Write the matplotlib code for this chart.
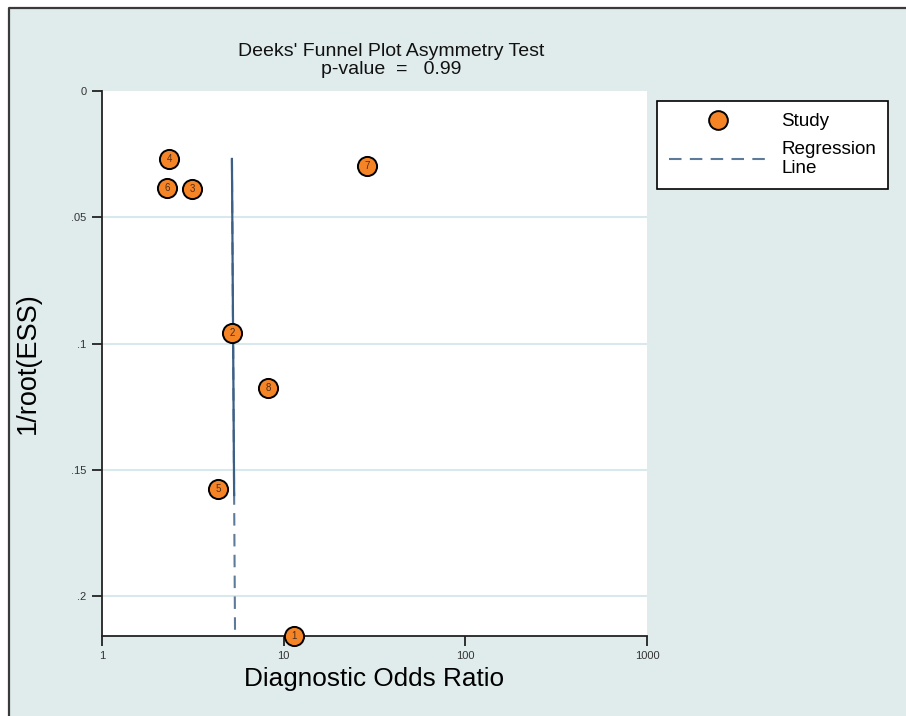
import matplotlib
matplotlib.use("Agg")
import matplotlib.pyplot as plt
from matplotlib.lines import Line2D
from matplotlib.patches import Rectangle

plt.rcParams['font.family'] = ['Liberation Sans', 'DejaVu Sans']

# study estimates: diagnostic odds ratio and 1/sqrt(effective sample size)
study_ids = ["1", "2", "3", "4", "5", "6", "7", "8"]
dor = [11.4, 5.2, 3.13, 2.34, 4.35, 2.28, 28.7, 8.2]
inv_root_ess = [0.2158, 0.0958, 0.0388, 0.0269, 0.1576, 0.0384, 0.0297, 0.1176]

# fitted regression line endpoints (x = DOR, y = 1/root(ESS))
reg_x = [5.19, 5.40]
reg_y = [0.0269, 0.2158]
reg_solid_y = [0.0269, 0.160]

y_ticks = [0, 0.05, 0.1, 0.15, 0.2]
y_ticklabels = ["0", ".05", ".1", ".15", ".2"]
x_ticks = [1, 10, 100, 1000]
x_ticklabels = ["1", "10", "100", "1000"]

W, H = 906, 716
bg = '#e0ecec'
orange = '#f58426'
line_col = '#5d7a98'

fig = plt.figure(figsize=(W / 100, H / 100), dpi=100, facecolor='white')
fig.add_artist(Rectangle((9 / W, -0.1), 1.2, 1.1 - 8 / H, transform=fig.transFigure,
                         facecolor=bg, edgecolor='none', zorder=-10))
# outer frame, only its top and left edges fall inside the image
fig.add_artist(Line2D([9 / W, 9 / W, 1.2], [-0.1, 1 - 8 / H, 1 - 8 / H], transform=fig.transFigure,
                      color='#3a3a3a', lw=1.6, zorder=-9))

ax = fig.add_axes([102 / W, 1 - 636 / H, 545 / W, 545 / H])
ax.set_facecolor('white')
ax.set_xscale('log')
ax.set_xlim(1, 1000)
ax.set_ylim(0.2158, 0)

for s in ['top', 'right']:
    ax.spines[s].set_visible(False)
for s in ['left', 'bottom']:
    ax.spines[s].set_color('#222222')
    ax.spines[s].set_linewidth(1.3)

ax.set_yticks(y_ticks)
ax.set_yticklabels(y_ticklabels, fontsize=8, color='#333333')
ax.set_xticks(x_ticks)
ax.set_xticklabels(x_ticklabels, fontsize=8, color='#333333')
ax.minorticks_off()
ax.tick_params(axis='both', length=7, width=1.3, color='#222222', pad=4)

for yt in y_ticks[1:]:
    ax.axhline(yt, color='#d8e8ec', lw=1.5, zorder=0)

# regression line: dashed over the full span, solid through the upper part
ax.plot(reg_x, reg_y, ls=(0, (6, 4)), color=line_col, lw=1.5, zorder=2)
sx = [reg_x[0], reg_x[0] + (reg_x[1] - reg_x[0]) * (reg_solid_y[1] - reg_y[0]) / (reg_y[1] - reg_y[0])]
ax.plot(sx, reg_solid_y, color='#3c5f86', lw=1.6, zorder=2)

ax.scatter(dor, inv_root_ess, s=190, c=orange, edgecolors='black', linewidths=1.4,
           zorder=4, clip_on=False)
for sid, x, y in zip(study_ids, dor, inv_root_ess):
    ax.text(x, y, sid, ha='center', va='center', fontsize=7, color='#4a3020', zorder=5)

ax.set_xlabel("Diagnostic Odds Ratio", fontsize=18.8, labelpad=4)
ax.set_ylabel("1/root(ESS)", fontsize=19.5, labelpad=22)

fig.text(391 / W, 1 - 51 / H, "Deeks' Funnel Plot Asymmetry Test", ha='center', va='center',
         fontsize=14, color='#111111')
fig.text(391 / W, 1 - 70 / H, "p-value  =   0.99", ha='center', va='center',
         fontsize=14, color='#111111')

handles = [
    Line2D([], [], ls='none', marker='o', markersize=13.5, markerfacecolor=orange,
           markeredgecolor='black', markeredgewidth=1.4),
    Line2D([], [], ls=(0, (6, 4)), color=line_col, lw=1.5),
]
leg = ax.legend(handles, ["Study", "Regression\nLine"], loc='upper left',
                bbox_to_anchor=(657 / W, 1 - 101 / H), bbox_transform=fig.transFigure,
                fontsize=13.6, frameon=True, fancybox=False, edgecolor='black', framealpha=1,
                handlelength=5.2, handletextpad=0.72, borderpad=0.65, labelspacing=0.55,
                borderaxespad=0)
leg.get_frame().set_linewidth(1.2)
for t in leg.get_texts():
    t.set_linespacing(1.15)

fig.savefig("out.png", dpi=100, facecolor=fig.get_facecolor())
